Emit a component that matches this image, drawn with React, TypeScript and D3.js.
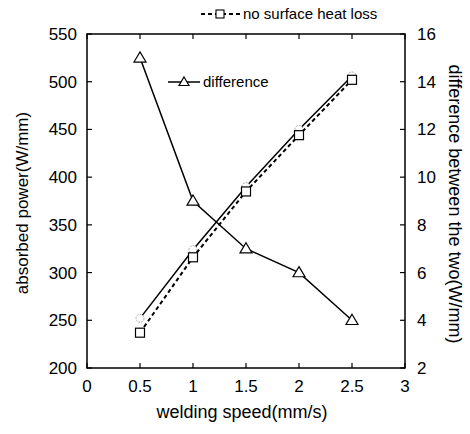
import React from "react";
import * as d3 from "d3";

const speeds = [0.5, 1, 1.5, 2, 2.5];
const withLoss = [252, 324, 390, 450, 506];
const noLoss = [237, 316, 385, 444, 502];
const difference = [15, 9, 7, 6, 4];
const xTicks = [0, 0.5, 1, 1.5, 2, 2.5, 3];
const xTickLabels = ["0", "0.5", "1", "1.5", "2", "2.5", "3"];
const yLeftTicks = [200, 250, 300, 350, 400, 450, 500, 550];
const yRightTicks = [2, 4, 6, 8, 10, 12, 14, 16];

const W = 470, H = 434;
const L = 87, R = 405, T = 34, B = 368;
const FONT = "Liberation Sans, Arial, sans-serif";

export default function App() {
  const x = d3.scaleLinear().domain([0, 3]).range([L, R]);
  const yL = d3.scaleLinear().domain([200, 550]).range([B, T]);
  const yR = d3.scaleLinear().domain([2, 16]).range([B, T]);
  const lineL = d3.line<number>().x((_, i) => x(speeds[i])).y((d) => yL(d));
  const lineR = d3.line<number>().x((_, i) => x(speeds[i])).y((d) => yR(d));
  const tri = (cx: number, cy: number, s = 6) =>
    `M${cx},${cy - s} L${cx + s},${cy + s * 0.7} L${cx - s},${cy + s * 0.7} Z`;
  const tickLen = 5;

  return (
    <svg width={W} height={H} style={{ position: "absolute", left: 0, top: 0, background: "#fff" }}>
      <rect x={0} y={0} width={W} height={H} fill="#fff" />
      <rect x={L} y={T} width={R - L} height={B - T} fill="none" stroke="#000" strokeWidth={1.5} />
      {xTicks.map((t, i) => (
        <g key={"xt" + i}>
          <line x1={x(t)} x2={x(t)} y1={B} y2={B - tickLen} stroke="#000" strokeWidth={1.2} />
          <line x1={x(t)} x2={x(t)} y1={T} y2={T + tickLen} stroke="#000" strokeWidth={1.2} />
          <text x={x(t)} y={B + 24} textAnchor="middle" fontFamily={FONT} fontSize={17}>{xTickLabels[i]}</text>
        </g>
      ))}
      {yLeftTicks.map((t) => (
        <g key={"yl" + t}>
          <line x1={L} x2={L + tickLen} y1={yL(t)} y2={yL(t)} stroke="#000" strokeWidth={1.2} />
          <text x={L - 10} y={yL(t) + 6} textAnchor="end" fontFamily={FONT} fontSize={17}>{t}</text>
        </g>
      ))}
      {yRightTicks.map((t) => (
        <g key={"yr" + t}>
          <line x1={R} x2={R - tickLen} y1={yR(t)} y2={yR(t)} stroke="#000" strokeWidth={1.2} />
          <text x={R + 12} y={yR(t) + 6} textAnchor="start" fontFamily={FONT} fontSize={17}>{t}</text>
        </g>
      ))}
      <path d={lineL(withLoss) || ""} fill="none" stroke="#000" strokeWidth={1.5} />
      {withLoss.map((v, i) => (
        <circle key={"c" + i} cx={x(speeds[i])} cy={yL(v)} r={4} fill="#fff" stroke="#aaa" strokeWidth={1} strokeDasharray="2,1" />
      ))}
      <path d={lineL(noLoss) || ""} fill="none" stroke="#000" strokeWidth={2} strokeDasharray="4,3" />
      {noLoss.map((v, i) => (
        <rect key={"s" + i} x={x(speeds[i]) - 4.5} y={yL(v) - 4.5} width={9} height={9} fill="#fff" stroke="#000" strokeWidth={1.2} />
      ))}
      <path d={lineR(difference) || ""} fill="none" stroke="#000" strokeWidth={1.5} />
      {difference.map((v, i) => (
        <path key={"t" + i} d={tri(x(speeds[i]), yR(v))} fill="#fff" stroke="#000" strokeWidth={1.2} />
      ))}
      <g>
        <line x1={201} x2={240} y1={14} y2={14} stroke="#000" strokeWidth={2} strokeDasharray="4,3" />
        <rect x={216} y={10} width={8} height={8} fill="#fff" stroke="#000" strokeWidth={1.1} />
        <text x={243} y={19} fontFamily={FONT} fontSize={15}>no surface heat loss</text>
      </g>
      <g>
        <line x1={168} x2={200} y1={82} y2={82} stroke="#000" strokeWidth={1.5} />
        <path d={tri(184, 82, 5)} fill="#fff" stroke="#000" strokeWidth={1.2} />
        <text x={203} y={87} fontFamily={FONT} fontSize={15}>difference</text>
      </g>
      <text x={242} y={418} textAnchor="middle" fontFamily={FONT} fontSize={18}>welding speed(mm/s)</text>
      <text transform={`translate(28,${(T + B) / 2 + 2}) rotate(-90)`} textAnchor="middle" fontFamily={FONT} fontSize={17}>absorbed power(W/mm)</text>
      <text transform={`translate(449,204) rotate(90)`} textAnchor="middle" fontFamily={FONT} fontSize={18}>difference between the two(W/mm)</text>
    </svg>
  );
}
